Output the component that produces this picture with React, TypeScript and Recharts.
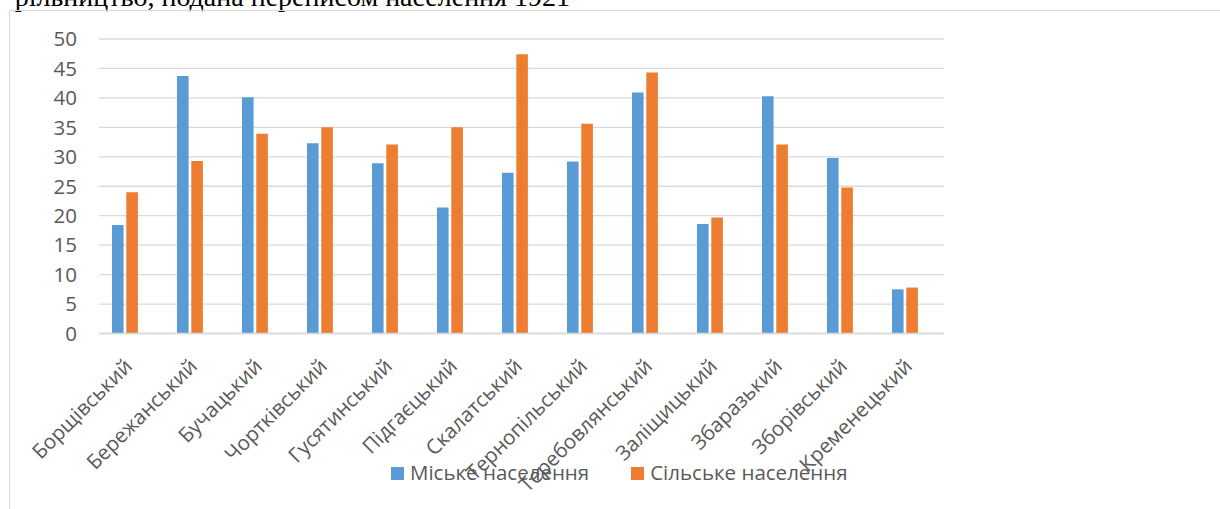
import { Bar, BarChart, CartesianGrid, XAxis, YAxis } from "recharts";

const districts = [
  "Борщівський",
  "Бережанський",
  "Бучацький",
  "Чортківський",
  "Гусятинський",
  "Підгаєцький",
  "Скалатський",
  "Тернопільський",
  "Теребовлянський",
  "Заліщицький",
  "Збаразький",
  "Зборівський",
  "Кременецький",
];
const urban = [18.4, 43.7, 40.1, 32.3, 28.9, 21.4, 27.3, 29.2, 40.9, 18.6, 40.3, 29.8, 7.5];
const rural = [24.0, 29.3, 33.9, 35.0, 32.1, 35.0, 47.4, 35.6, 44.3, 19.7, 32.1, 24.8, 7.8];
const yTicks = [0, 5, 10, 15, 20, 25, 30, 35, 40, 45, 50];

const series = [
  { key: "urban", name: "Міське населення", color: "#5B9BD5" },
  { key: "rural", name: "Сільське населення", color: "#ED7D31" },
];

const data = districts.map((name, i) => ({ name, urban: urban[i], rural: rural[i] }));

const font = "'Open Sans', 'Noto Sans', sans-serif";
const textColor = "#595959";

function CategoryTick({ x, y, payload }: any) {
  return (
    <g transform={`translate(${x + 9},${y + 30})`}>
      <text
        x={0}
        y={0}
        textAnchor="end"
        transform="rotate(-45)"
        fill={textColor}
        fontSize={20.5}
        fontFamily={font}
      >
        {payload.value}
      </text>
    </g>
  );
}

export default function App() {
  return (
    <div style={{ position: "absolute", left: 0, top: 0, width: 1220, height: 509, overflow: "hidden", background: "#fff" }}>
      <svg width={1220} height={12} style={{ position: "absolute", left: 0, top: 0 }}>
        <text x={570} y={6} textAnchor="end" fontFamily="'Liberation Serif', 'Times New Roman', serif" fontSize={28} fill="#000">
          рільництво, подана переписом населення 1921
        </text>
      </svg>
      <div
        style={{
          position: "absolute",
          left: 9,
          top: 10,
          width: 1300,
          height: 600,
          borderTop: "1px solid #D9D9D9",
          borderLeft: "1px solid #D9D9D9",
        }}
      />
      <div style={{ position: "absolute", left: 0, top: 0 }}>
        <BarChart
          width={1220}
          height={509}
          data={data}
          margin={{ top: 39, right: 276, left: 39, bottom: 145.5 }}
          barGap={2.7}
          barSize={11.6}
        >
          <CartesianGrid vertical={false} stroke="#D9D9D9" strokeWidth={1.3} />
          <XAxis
            dataKey="name"
            interval={0}
            height={30}
            padding={{ left: -7, right: 7 }}
            tickLine={false}
            tickSize={0}
            tickMargin={4}
            axisLine={{ stroke: "#D9D9D9", strokeWidth: 1.5 }}
            tick={<CategoryTick />}
          />
          <YAxis
            width={60}
            domain={[0, 50]}
            ticks={yTicks}
            interval={0}
            axisLine={false}
            tickLine={false}
            tickSize={0}
            tickMargin={22}
            tick={{ fill: textColor, fontSize: 20.5, fontFamily: font }}
          />
          {series.map((s) => (
            <Bar key={s.key} dataKey={s.key} name={s.name} fill={s.color} isAnimationActive={false} />
          ))}
        </BarChart>
      </div>
      <div
        style={{
          position: "absolute",
          left: 391,
          top: 458,
          display: "flex",
          fontFamily: font,
          fontSize: 20.5,
          color: textColor,
          lineHeight: "28px",
        }}
      >
        {series.map((s, i) => (
          <div key={s.key} style={{ display: "flex", alignItems: "center", marginLeft: i ? 42 : 0 }}>
            <span style={{ width: 13, height: 13, background: s.color, marginRight: 6, marginTop: 3 }} />
            <span>{s.name}</span>
          </div>
        ))}
      </div>
    </div>
  );
}
